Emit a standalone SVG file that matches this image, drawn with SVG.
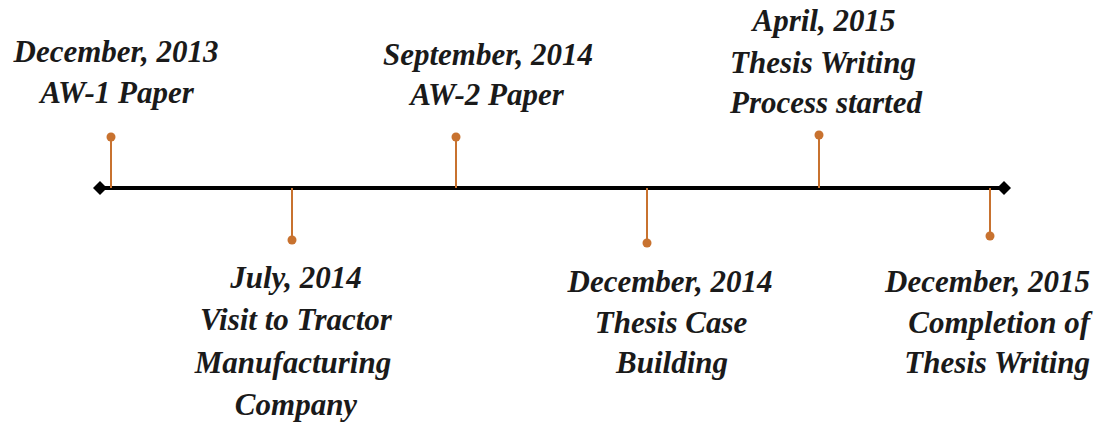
<svg xmlns="http://www.w3.org/2000/svg" width="1104" height="423" viewBox="0 0 1104 423">
  <style>
    .lbl { font-family: "Liberation Serif", "Times New Roman", serif; font-size: 31px; font-weight: bold; font-style: italic; fill: #1a1a1a; text-anchor: middle; }
    .end { text-anchor: end; }
    .stem { stroke: #c8722f; stroke-width: 2; }
    .dot { fill: #c8722f; }
  </style>
  <rect width="1104" height="423" fill="#ffffff"/>

  <!-- main timeline axis with diamond ends -->
  <g id="connectors">
    <line x1="100" y1="188" x2="1004" y2="188" stroke="#000" stroke-width="4"/>
    <polygon points="93,188 100,181 107,188 100,195" fill="#000"/>
    <polygon points="997,188 1004,181 1011,188 1004,195" fill="#000"/>
    <line class="stem" x1="111" y1="137" x2="111" y2="188"/>
    <line class="stem" x1="292" y1="188" x2="292" y2="240"/>
    <line class="stem" x1="456" y1="137" x2="456" y2="188"/>
    <line class="stem" x1="647" y1="188" x2="647" y2="243"/>
    <line class="stem" x1="819" y1="135" x2="819" y2="188"/>
    <line class="stem" x1="990" y1="188" x2="990" y2="236"/>
  </g>

  <g id="m2013-12">
    <circle class="dot" cx="111" cy="137" r="4.5"/>
    <text class="lbl" x="116" y="62">December, 2013</text>
    <text class="lbl" x="117" y="103">AW-1 Paper</text>
  </g>

  <g id="m2014-07">
    <circle class="dot" cx="292" cy="240" r="4.5"/>
    <text class="lbl" x="296" y="288">July, 2014</text>
    <text class="lbl" x="296" y="330">Visit to Tractor</text>
    <text class="lbl" x="293" y="373">Manufacturing</text>
    <text class="lbl" x="296" y="415">Company</text>
  </g>

  <g id="m2014-09">
    <circle class="dot" cx="456" cy="137" r="4.5"/>
    <text class="lbl" x="488" y="65">September, 2014</text>
    <text class="lbl" x="487" y="105">AW-2 Paper</text>
  </g>

  <g id="m2014-12">
    <circle class="dot" cx="647" cy="243" r="4.5"/>
    <text class="lbl" x="670" y="292">December, 2014</text>
    <text class="lbl" x="671" y="333">Thesis Case</text>
    <text class="lbl" x="672" y="373">Building</text>
  </g>

  <g id="m2015-04">
    <circle class="dot" cx="819" cy="135" r="4.5"/>
    <text class="lbl" x="824" y="31">April, 2015</text>
    <text class="lbl" x="823" y="73">Thesis Writing</text>
    <text class="lbl" x="826" y="113">Process started</text>
  </g>

  <g id="m2015-12">
    <circle class="dot" cx="990" cy="236" r="4.5"/>
    <text class="lbl end" x="1090" y="292">December, 2015</text>
    <text class="lbl end" x="1090" y="333">Completion of</text>
    <text class="lbl end" x="1090" y="373">Thesis Writing</text>
  </g>
</svg>
